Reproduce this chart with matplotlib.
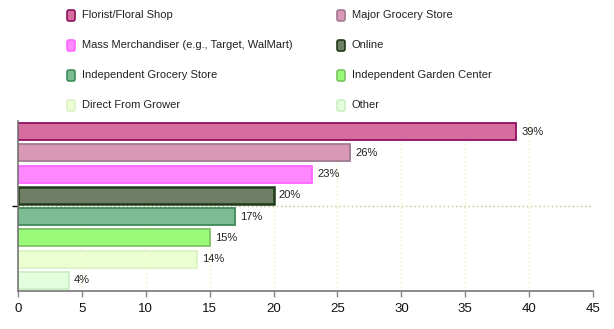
import matplotlib
matplotlib.use('Agg')
import matplotlib.pyplot as plt
from matplotlib.patches import FancyBboxPatch
from matplotlib.transforms import IdentityTransform

# Data
categories = ['Florist/Floral Shop', 'Major Grocery Store',
              'Mass Merchandiser (e.g., Target, WalMart)', 'Online',
              'Independent Grocery Store', 'Independent Garden Center',
              'Direct From Grower', 'Other']
values = [39, 26, 23, 20, 17, 15, 14, 4]
face_colors = ['#D66D9F', '#D898B6', '#FF88FF', '#6E7F65',
               '#7DBB92', '#98FA78', '#EBFFD2', '#E3FEDC']
edge_colors = ['#8E1060', '#A07A90', '#FF66FF', '#1F3A18',
               '#3E8A5A', '#7CC264', '#DCF2C4', '#CCEEC4']
xticks = [0, 5, 10, 15, 20, 25, 30, 35, 40, 45]

W, H = 614, 329
fig = plt.figure(figsize=(W / 100, H / 100), dpi=100)
fig.patch.set_facecolor('white')

# Plot area in pixels: x 18..593, y 121..291 (top-down)
ax = fig.add_axes([18 / W, (H - 291) / H, (593 - 18) / W, (291 - 121) / H])

# Grid lines (behind bars)
for xv in xticks[1:-1]:
    ax.axvline(xv, color='#EFEFB8', linestyle=(0, (1, 2)), linewidth=1.0, zorder=0)
ax.hlines(3.5, 0, 45, color='#C0C090', linestyle=(0, (1, 2)), linewidth=1.0, zorder=0)

ypos = list(range(len(values)))
for i, v in enumerate(values):
    lw = 1.8 if categories[i] == 'Online' else 1.3
    ax.barh(ypos[i], v, height=0.8, color=face_colors[i],
            edgecolor=edge_colors[i], linewidth=lw, zorder=2)
    ax.text(v + 0.4, ypos[i], f'{v}%', va='center', ha='left',
            fontsize=8, color='#222222', family='Liberation Sans', zorder=3)

ax.set_xlim(0, 45)
ax.set_ylim(7.5, -0.5)
ax.set_xticks(xticks)
ax.set_xticklabels([str(t) for t in xticks], fontsize=9.5,
                   family='Liberation Sans', color='#111111')
ax.set_yticks([3.5])
ax.set_yticklabels([''])
ax.tick_params(axis='x', direction='out', length=4, width=1, color='#888888', pad=5)
ax.tick_params(axis='y', direction='out', length=4, width=1, color='#000000')

for side in ['top', 'right']:
    ax.spines[side].set_visible(False)
for side in ['left', 'bottom']:
    ax.spines[side].set_color('#777777')
    ax.spines[side].set_linewidth(1.2)

# Legend (two columns, four rows) drawn in pixel coordinates
col_x = [67, 337]
for i, label in enumerate(categories):
    col = i % 2
    row = i // 2
    yc = 15.5 + 30 * row
    x0 = col_x[col]
    box = FancyBboxPatch((x0, H - yc - 5.5), 8, 11,
                         boxstyle='round,pad=0,rounding_size=2',
                         facecolor=face_colors[i], edgecolor=edge_colors[i],
                         linewidth=1.2, transform=IdentityTransform())
    fig.patches.append(box)
    fig.text((x0 + 15) / W, (H - yc) / H, label, va='center', ha='left',
             fontsize=8, color='#222222', family='Liberation Sans')

fig.savefig('out.png', dpi=100)
